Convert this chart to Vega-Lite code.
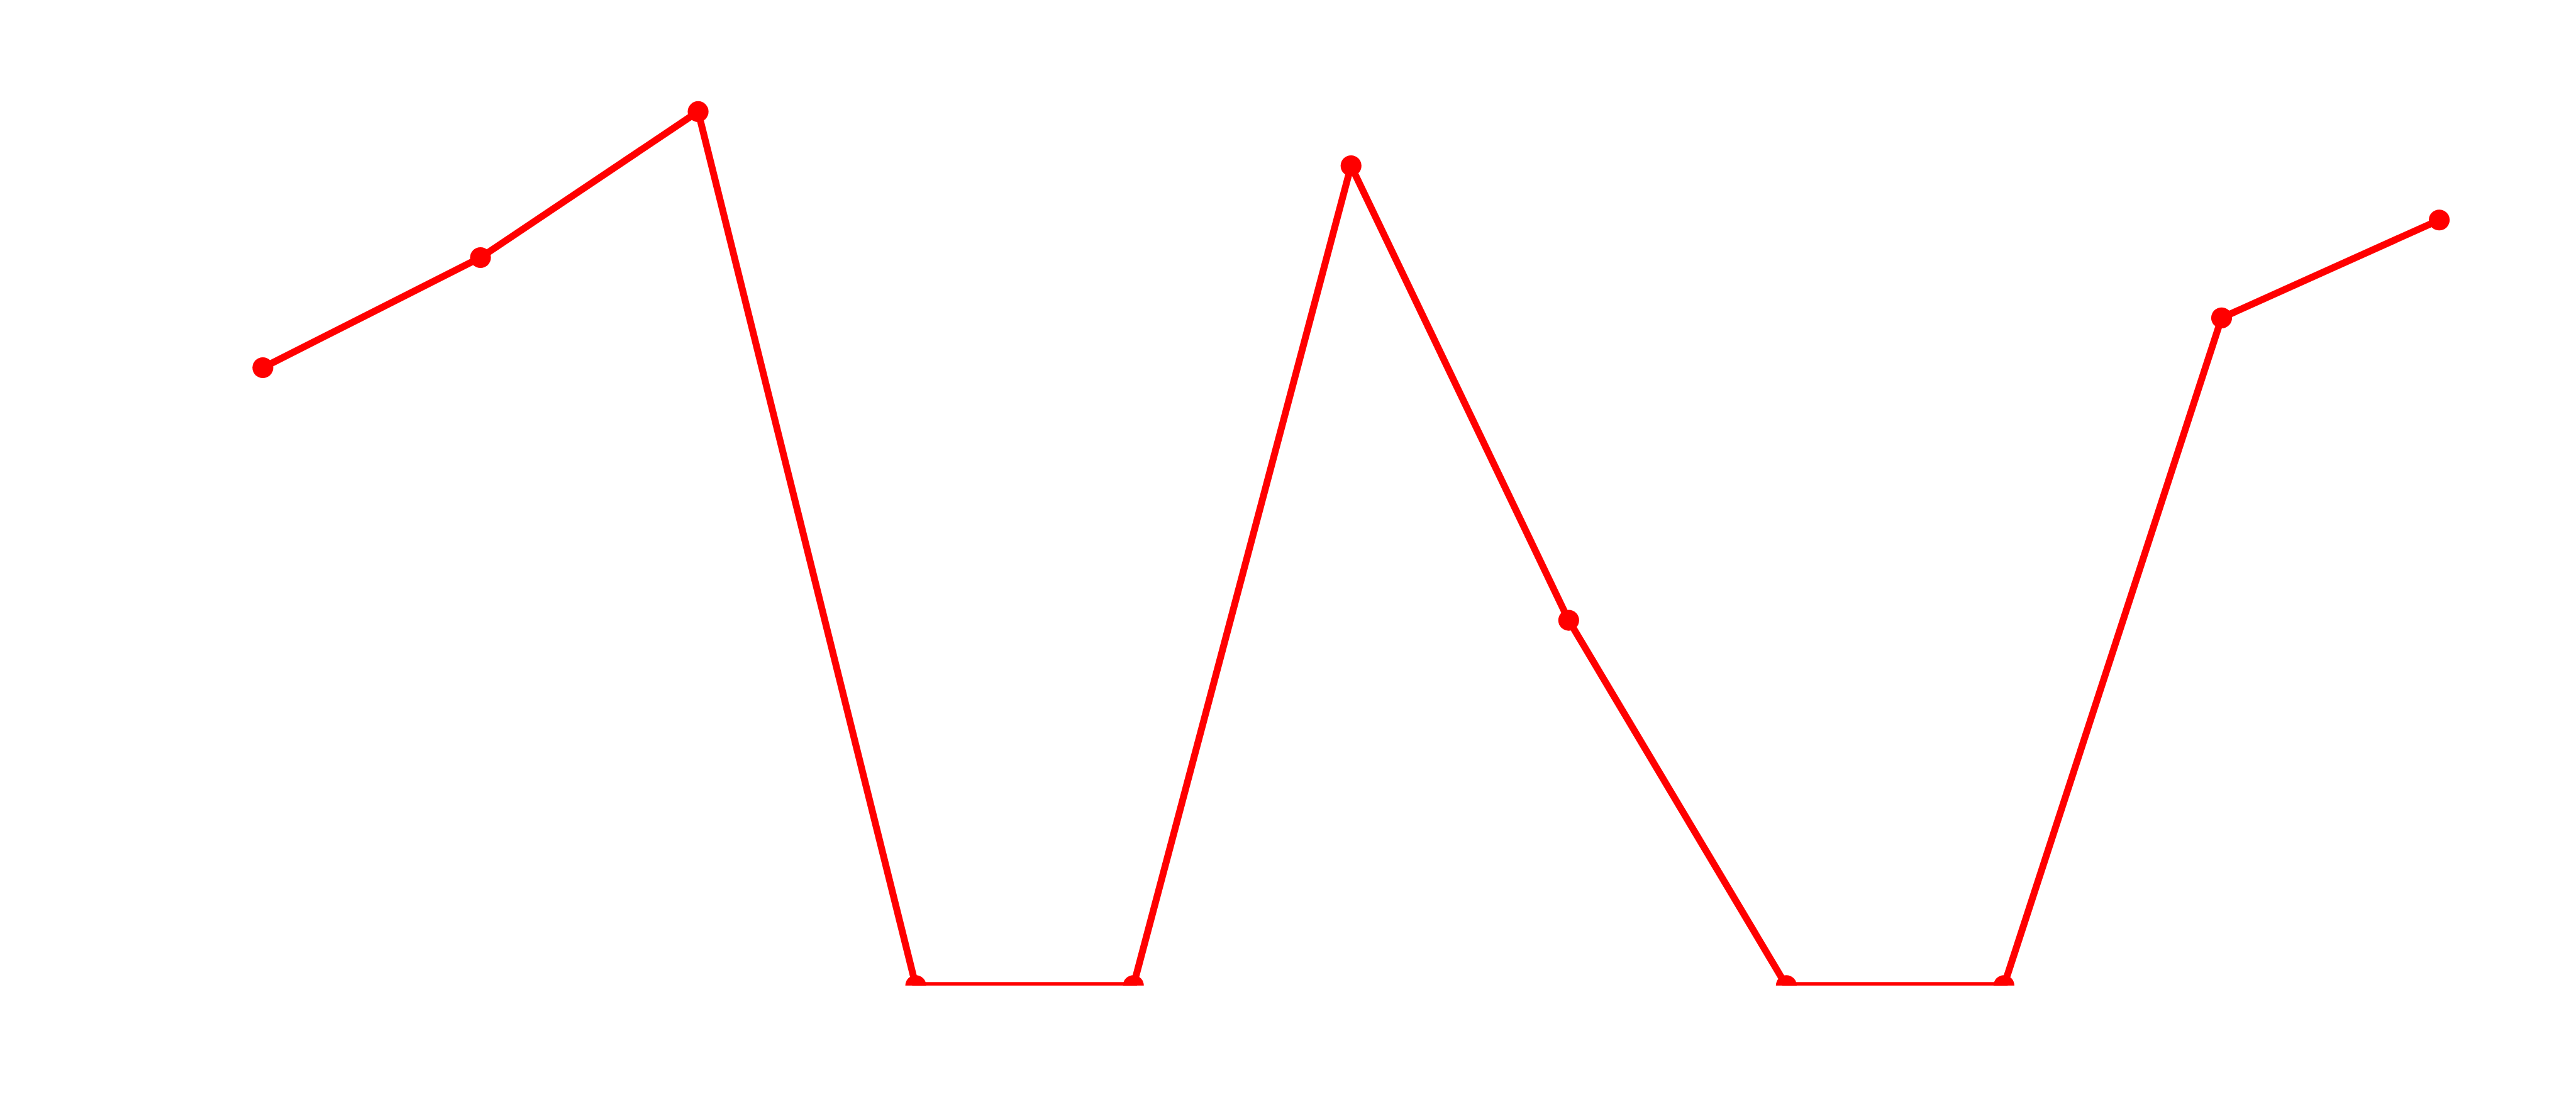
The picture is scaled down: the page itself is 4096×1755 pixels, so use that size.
{
  "$schema": "https://vega.github.io/schema/vega-lite/v6.json",
  "width": 3806.7,
  "height": 1528.3,
  "autosize": {"type": "none"},
  "padding": {"left": 244.9, "top": 38.5, "right": 0, "bottom": 0},
  "background": "white",
  "config": {"view": {"stroke": null}},
  "data": {
    "values": [
      {"i": 0, "v": 70.7},
      {"i": 1, "v": 83.3},
      {"i": 2, "v": 100},
      {"i": 3, "v": 0},
      {"i": 4, "v": 0},
      {"i": 5, "v": 93.8},
      {"i": 6, "v": 41.8},
      {"i": 7, "v": 0},
      {"i": 8, "v": 0},
      {"i": 9, "v": 76.4},
      {"i": 10, "v": 87.6}
    ]
  },
  "encoding": {
    "x": {"field": "i", "type": "quantitative", "scale": {"domain": [-0.5, 10.5]}, "axis": null},
    "y": {"field": "v", "type": "quantitative", "scale": {"domain": [0, 110]}, "axis": null}
  },
  "layer": [
    {"mark": {"type": "line", "color": "#ff0000", "strokeWidth": 11, "clip": true, "strokeJoin": "round"}},
    {"mark": {"type": "circle", "color": "#ff0000", "opacity": 1, "size": 1100, "clip": true}}
  ]
}
